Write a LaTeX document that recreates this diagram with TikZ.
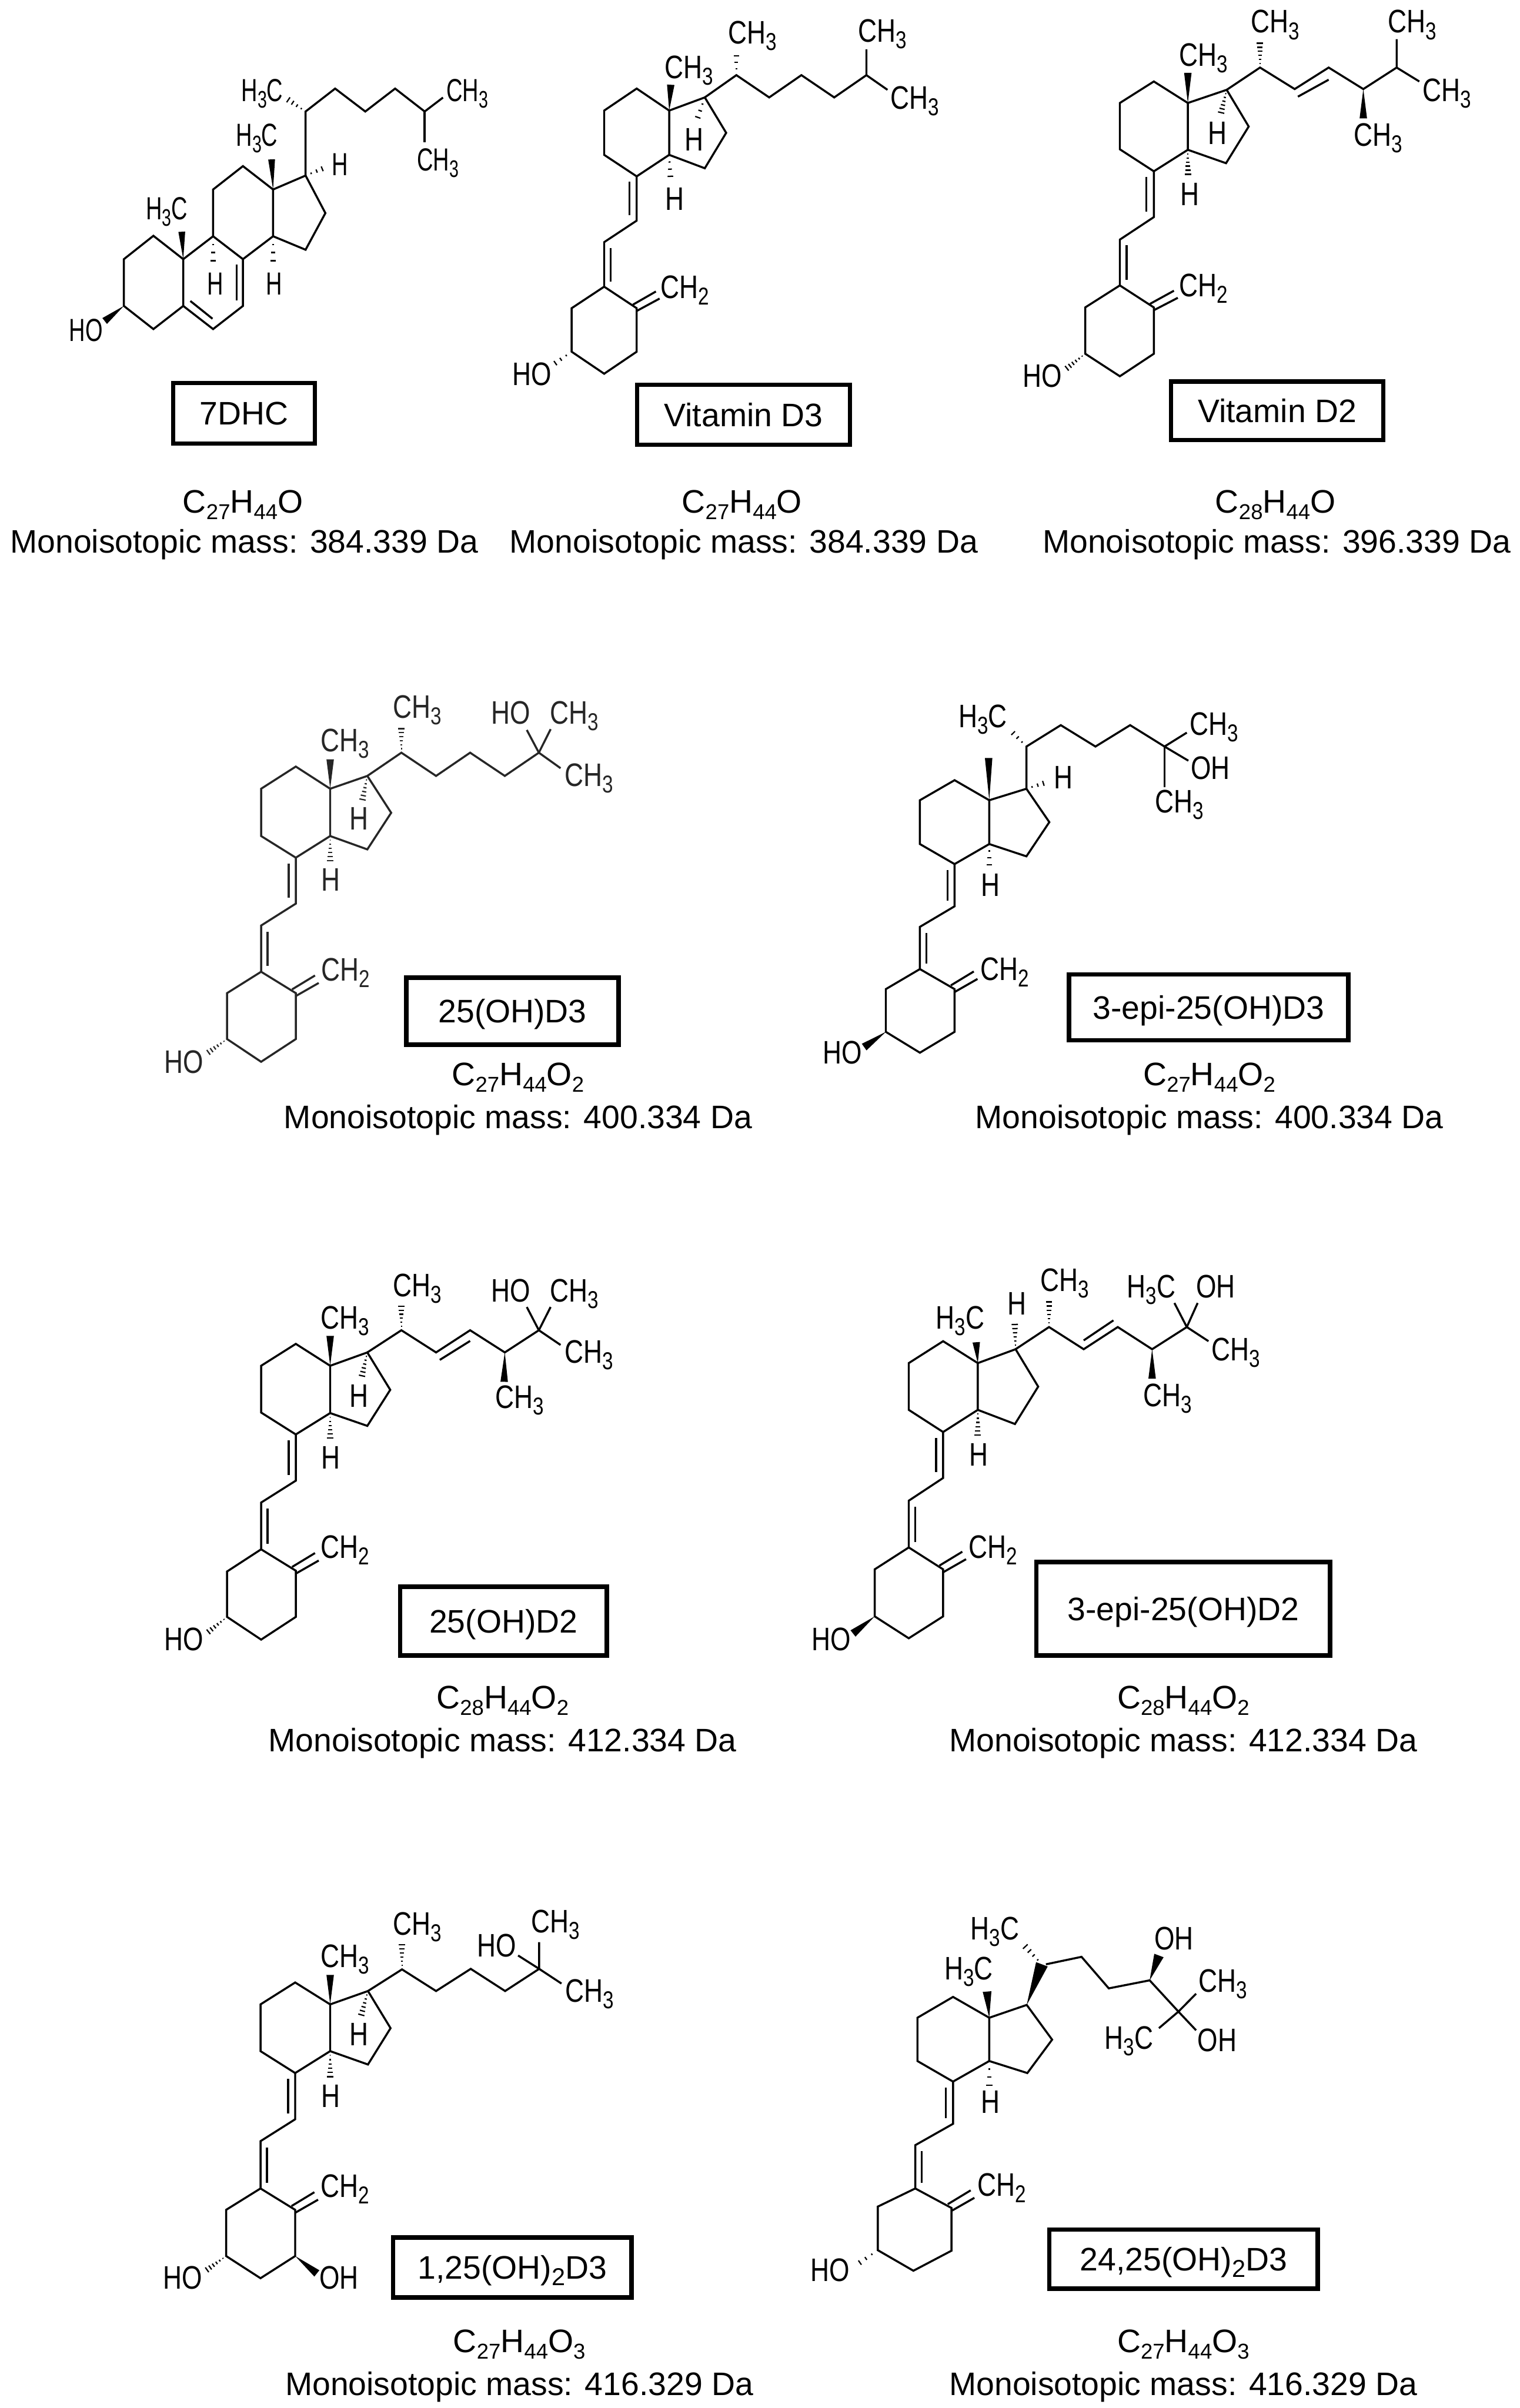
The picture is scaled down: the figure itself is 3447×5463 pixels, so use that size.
\documentclass[tikz,border=0pt]{standalone}
\usepackage{graphicx}
\usepackage{fontspec}
\setmainfont{Liberation Sans}
\newfontfamily\chemfamA[FakeStretch=0.70]{Liberation Sans}
\newfontfamily\chemfamB[FakeStretch=0.80]{Liberation Sans}
\newcommand{\chemA}{\chemfamA\fontsize{20.6pt}{23pt}\selectfont}
\newcommand{\chemB}{\chemfamB\fontsize{21pt}{24pt}\selectfont}
\usetikzlibrary{calc}
\newcommand{\lo}[1]{\raisebox{-.2em}{\scalebox{.75}{#1}}}
\newcommand{\loc}[1]{\raisebox{-.2em}{\scalebox{.66}{#1}}}
\tikzset{
  bond/.style={line width=1.3pt,line join=miter,line cap=butt},
  lab/.style={anchor=base west,inner sep=0pt,outer sep=0pt,font=\chemB},
  namebox/.style={draw,line width=2.84pt,inner sep=0pt,text height=15pt,text depth=0pt,font=\fontsize{21pt}{24pt}\selectfont},
  caption/.style={anchor=base,inner sep=0pt,font=\fontsize{21pt}{24pt}\selectfont},
  hashline/.style={line width=.85pt},
}
\newcommand{\pts}[1]{\foreach \n/\xx/\yy in {#1}{\coordinate (\n) at (\xx,\yy);}}
\newcommand{\lbl}[4]{\node[lab] (#1) at (#2,#3) {#4};}
% solid wedge: narrow end, wide end, half width (pt)
\newcommand{\wdg}[3]{\fill ($(#2)!#3pt!90:(#1)$) -- ($(#2)!#3pt!-90:(#1)$) -- (#1) -- cycle;}
% hashed wedge: narrow end, wide end, half width (pt), number of dashes
\newcommand{\hsh}[4]{\foreach \hi in {1,...,#4}{%
  \pgfmathsetmacro{\hT}{\hi/#4}\pgfmathsetmacro{\hW}{\hT*#3}%
  \draw[hashline] ($(#1)!\hT!(#2)!\hW pt!90:(#2)$) -- ($(#1)!\hT!(#2)!\hW pt!-90:(#2)$);}}
% the shared seco-steroid skeleton
\newcommand{\seco}{%
  \draw[bond] (u1) -- (u2) -- (u3) -- (u4) -- (q) -- (p) -- cycle;
  \draw[bond] (p) -- (f1) -- (f2) -- (f3) -- (q);
  \draw[bond] (u4) -- (d1) -- (d2) -- (a1);
  \draw[bond] (a1) -- (a2) -- (a3) -- (a4) -- (a5) -- (a6) -- cycle;
  \draw[bond] ($(u4)+(-23,22)$) -- ($(d1)+(-23,-22)$);
  \draw[bond] ($(d2)+(21,23)$) -- ($(a1)+(21,-21)$);
  \draw[bond] ($(a2)+(-12,-14)$) -- ($(a2)+(62,-66)$);
  \draw[bond] ($(a2)+(0,11)$) -- ($(a2)+(74,-38)$);
}
\begin{document}
\begin{tikzpicture}[x=0.01cm,y=-0.01cm]
\useasboundingbox (0,0) rectangle (3447,5463);
\fill[white] (0,0) rectangle (3447,5463);

% ---------- 7DHC
\begin{scope}[shift={(100,100)},x=0.006696cm,y=-0.005102cm,lab/.append style={font=\chemA}]
\pts{a/370/853,b/270/957,c/270/1165,d/370/1268,e/471/1165,g/471/957,h/572/855,i/673/957,j/673/1165,k/572/1268,l/572/647,m/673/543,o/775/647,r/775/855,s/885/585,t/952/752,v/885/915,w/885/300,w1/985/198,w2/1087/300,w3/1188/198,w4/1288/300,e1/1350/238,e2/1288/437,e3/466/835,e4/770/513,e5/205/1232,e6/572/1000,e7/775/1000,e8/960/545,e9/812/235,i1/652/980,i2/652/1140,i3/495/1143,i4/570/1222}
\draw[bond] (g) -- (a) -- (b) -- (c) -- (d) -- (e) -- cycle;
\draw[bond] (g) -- (h) -- (i) -- (j) -- (k) -- (e);
\draw[bond] (h) -- (l) -- (m) -- (o) -- (r) -- (i);
\draw[bond] (o) -- (s) -- (t) -- (v) -- (r);
\draw[bond] (s) -- (w) -- (w1) -- (w2) -- (w3) -- (w4) -- (e1);
\draw[bond] (w4) -- (e2);
\draw[bond] (i1) -- (i2);
\draw[bond] (i3) -- (i4);
\wdg{g}{e3}{2.2}\wdg{o}{e4}{2.2}\wdg{c}{e5}{2.4}
\hsh{h}{e6}{2.4}{4}\hsh{r}{e7}{2.4}{4}\hsh{s}{e8}{2.2}{4}\hsh{w}{e9}{2.4}{5}
\lbl{ma}{668}{255}{H\lo{3}C}
\lbl{mb}{650}{455}{H\lo{3}C}
\lbl{mc}{345}{780}{H\lo{3}C}
\lbl{md}{85}{1322}{HO}
\lbl{me}{552}{1115}{H}
\lbl{mf}{752}{1115}{H}
\lbl{mg}{975}{585}{H}
\lbl{mh}{1362}{255}{CH\lo{3}}
\lbl{mi}{1262}{565}{CH\lo{3}}
\end{scope}

% ---------- Vitamin D3
\begin{scope}[shift={(1100,0)},x=0.007015cm,y=-0.00574cm]
\pts{p/595/437,u1/490/350,u2/385/437,u3/385/612,u4/490/697,q/595/612,f1/710/385,f2/779/525,f3/710/665,d1/490/872,d2/385/957,a1/385/1133,a2/490/1218,a3/490/1390,a4/385/1477,a5/280/1390,a6/280/1218,s1/812/297,s2/918/385,s3/1022/297,s4/1128/385,s5/1232/297,e1/1232/195,e2/1300/355,e3/812/195,e4/680/490,e5/600/725,e6/600/335,e7/210/1450}
\seco
\draw[bond] (f1) -- (s1) -- (s2) -- (s3) -- (s4) -- (s5) -- (e1);
\draw[bond] (s5) -- (e2);
\wdg{p}{e6}{2.4}\hsh{s1}{e3}{2.4}{4}\hsh{f1}{e4}{2.4}{4}\hsh{q}{e5}{2.4}{4}\hsh{a5}{e7}{2.2}{4}
\lbl{na}{785}{172}{CH\lo{3}}
\lbl{nb}{1205}{167}{CH\lo{3}}
\lbl{nc}{1310}{430}{CH\lo{3}}
\lbl{nd}{580}{310}{CH\lo{3}}
\lbl{ne}{645}{595}{H}
\lbl{nf}{583}{830}{H}
\lbl{ng}{567}{1180}{CH\lo{2}}
\lbl{nh}{88}{1522}{HO}
\end{scope}

% ---------- Vitamin D2
\begin{scope}[shift={(2250,0)},x=0.007334cm,y=-0.00574cm]
\pts{p/605/407,u1/500/322,u2/395/407,u3/395/590,u4/500/677,q/605/592,f1/725/355,f2/793/500,f3/723/645,d1/500/858,d2/395/947,a1/395/1128,a2/500/1215,a3/500/1398,a4/395/1487,a5/288/1398,a6/288/1215,s1/828/267,s2/935/352,s3/1040/267,s4/1147/352,s5/1250/267,e1/1250/155,e2/1320/322,e3/828/155,e4/705/460,e5/605/705,e6/605/288,e7/222/1465,e8/1147/468,i1/945/382,i2/1040/315}
\seco
\draw[bond] (f1) -- (s1) -- (s2) -- (s3) -- (s4) -- (s5) -- (e1);
\draw[bond] (s5) -- (e2);
\draw[bond] (i1) -- (i2);
\wdg{p}{e6}{2.4}\wdg{s4}{e8}{2.4}\hsh{s1}{e3}{2.4}{7}\hsh{f1}{e4}{2.4}{7}\hsh{q}{e5}{2.4}{7}\hsh{a5}{e7}{2.2}{7}
\lbl{oa}{800}{130}{CH\lo{3}}
\lbl{ob}{1224}{130}{CH\lo{3}}
\lbl{oc}{1330}{400}{CH\lo{3}}
\lbl{od}{1118}{578}{CH\lo{3}}
\lbl{oe}{578}{262}{CH\lo{3}}
\lbl{of}{667}{570}{H}
\lbl{og}{582}{812}{H}
\lbl{oh}{578}{1172}{CH\lo{2}}
\lbl{oi}{95}{1530}{HO}
\end{scope}

% ---------- 25(OH)D3
\begin{scope}[shift={(350,1550)},x=0.007015cm,y=-0.006059cm,color=black!85]
\pts{p/568/395,u1/457/312,u2/345/395,u3/345/572,u4/457/653,q/568/572,f1/688/347,f2/765/485,f3/688/622,d1/457/825,d2/345/907,a1/345/1080,a2/457/1160,a3/457/1332,a4/345/1417,a5/235/1332,a6/235/1160,s1/798/260,s2/910/347,s3/1020/260,s4/1132/347,s5/1242/260,e1/1203/175,e2/1280/172,e9/1312/318,e3/798/155,e4/670/450,e5/568/680,e6/568/285,e7/165/1390}
\seco
\draw[bond] (f1) -- (s1) -- (s2) -- (s3) -- (s4) -- (s5) -- (e1);
\draw[bond] (s5) -- (e2);
\draw[bond] (s5) -- (e9);
\wdg{p}{e6}{2.4}\hsh{s1}{e3}{2.4}{7}\hsh{f1}{e4}{2.4}{7}\hsh{q}{e5}{2.4}{7}\hsh{a5}{e7}{2.2}{7}
\lbl{pa}{772}{130}{CH\lo{3}}
\lbl{pb}{1088}{152}{HO}
\lbl{pc}{1278}{152}{CH\lo{3}}
\lbl{pd}{1325}{385}{CH\lo{3}}
\lbl{pe}{538}{255}{CH\lo{3}}
\lbl{pf}{630}{548}{H}
\lbl{pg}{540}{778}{H}
\lbl{ph}{540}{1115}{CH\lo{2}}
\lbl{pi}{32}{1460}{HO}
\end{scope}

% ---------- 3-epi-25(OH)D3
\begin{scope}[shift={(1800,1550)},x=0.007015cm,y=-0.006059cm]
\pts{p/632/438,u1/520/363,u2/408/438,u3/408/602,u4/520/677,q/632/602,f1/752/395,f2/826/520,f3/752/648,d1/520/835,d2/408/912,a1/408/1070,a2/520/1145,a3/520/1305,a4/408/1383,a5/298/1305,a6/298/1145,s1/752/237,s2/863/157,s3/975/237,s4/1087/157,s5/1198/237,e1/1270/185,e2/1275/290,e9/1198/390,e3/695/170,e4/825/368,e5/632/705,e6/630/280,e7/228/1362}
\seco
\draw[bond] (f1) -- (s1) -- (s2) -- (s3) -- (s4) -- (s5) -- (e1);
\draw[bond] (s5) -- (e2);
\draw[bond] (s5) -- (e9);
\wdg{p}{e6}{2.4}\wdg{a5}{e7}{2.6}\hsh{s1}{e3}{2.2}{4}\hsh{f1}{e4}{2.2}{4}\hsh{q}{e5}{2.4}{4}
\lbl{qa}{533}{165}{H\lo{3}C}
\lbl{qb}{842}{395}{H}
\lbl{qc}{1280}{195}{CH\lo{3}}
\lbl{qd}{1283}{360}{OH}
\lbl{qe}{1168}{485}{CH\lo{3}}
\lbl{qf}{605}{797}{H}
\lbl{qg}{603}{1112}{CH\lo{2}}
\lbl{qh}{95}{1425}{HO}
\end{scope}

% ---------- 25(OH)D2
\begin{scope}[shift={(350,2850)},x=0.007015cm,y=-0.006059cm]
\pts{p/568/410,u1/457/328,u2/345/410,u3/345/585,u4/457/667,q/568/587,f1/688/360,f2/762/500,f3/688/635,d1/457/840,d2/345/922,a1/345/1097,a2/457/1177,a3/457/1350,a4/345/1435,a5/235/1350,a6/235/1180,s1/798/277,s2/910/360,s3/1020/277,s4/1132/360,s5/1242/277,e1/1203/190,e2/1280/190,e9/1312/332,e3/798/172,e4/668/462,e5/568/695,e6/568/298,e7/165/1415,e8/1130/470,i1/922/388,i2/1020/317}
\seco
\draw[bond] (f1) -- (s1) -- (s2) -- (s3) -- (s4) -- (s5) -- (e1);
\draw[bond] (s5) -- (e2);
\draw[bond] (s5) -- (e9);
\draw[bond] (i1) -- (i2);
\wdg{p}{e6}{2.4}\wdg{s4}{e8}{2.4}\hsh{s1}{e3}{2.4}{7}\hsh{f1}{e4}{2.4}{7}\hsh{q}{e5}{2.4}{7}\hsh{a5}{e7}{2.2}{7}
\lbl{ra}{772}{150}{CH\lo{3}}
\lbl{rb}{1088}{170}{HO}
\lbl{rc}{1278}{170}{CH\lo{3}}
\lbl{rd}{1325}{400}{CH\lo{3}}
\lbl{re}{1102}{570}{CH\lo{3}}
\lbl{rf}{538}{272}{CH\lo{3}}
\lbl{rg}{630}{565}{H}
\lbl{rh}{540}{795}{H}
\lbl{ri}{538}{1130}{CH\lo{2}}
\lbl{rj}{32}{1475}{HO}
\end{scope}

% ---------- 3-epi-25(OH)D2
\begin{scope}[shift={(1800,2850)},x=0.007015cm,y=-0.006059cm]
\pts{p/595/400,u1/483/318,u2/372/400,u3/372/575,u4/483/658,q/595/575,f1/717/348,f2/790/488,f3/715/628,d1/483/830,d2/372/915,a1/372/1090,a2/483/1172,a3/483/1348,a4/372/1430,a5/262/1348,a6/262/1172,s1/825/265,s2/937/348,s3/1047/265,s4/1158/348,s5/1270/265,e1/1230/175,e2/1305/175,e9/1340/318,e3/825/155,e4/714/240,e5/595/685,e6/590/322,e7/192/1412,e8/1158/458,i1/937/315,i2/1033/240}
\seco
\draw[bond] (f1) -- (s1) -- (s2) -- (s3) -- (s4) -- (s5) -- (e1);
\draw[bond] (s5) -- (e2);
\draw[bond] (s5) -- (e9);
\draw[bond] (i1) -- (i2);
\wdg{p}{e6}{2.4}\wdg{s4}{e8}{2.4}\wdg{a5}{e7}{2.6}\hsh{s1}{e3}{2.4}{7}\hsh{f1}{e4}{2.4}{7}\hsh{q}{e5}{2.4}{7}
\lbl{sa}{798}{132}{CH\lo{3}}
\lbl{sb}{1077}{155}{H\lo{3}C}
\lbl{sc}{1300}{155}{OH}
\lbl{sd}{1350}{390}{CH\lo{3}}
\lbl{se}{1130}{562}{CH\lo{3}}
\lbl{sf}{692}{220}{H}
\lbl{sg}{460}{272}{H\lo{3}C}
\lbl{sh}{568}{785}{H}
\lbl{si}{565}{1130}{CH\lo{2}}
\lbl{sj}{58}{1475}{HO}
\end{scope}

% ---------- 1,25(OH)2D3
\begin{scope}[shift={(350,4300)},x=0.007015cm,y=-0.006059cm]
\pts{p/568/408,u1/455/326,u2/343/408,u3/343/583,u4/455/665,q/568/583,f1/690/358,f2/763/497,f3/690/633,d1/455/838,d2/343/920,a1/343/1097,a2/455/1177,a3/455/1350,a4/343/1433,a5/232/1350,a6/232/1177,s1/800/277,s2/910/358,s3/1022/275,s4/1133/358,s5/1243/275,e1/1243/175,e2/1175/225,e9/1315/330,e3/800/170,e4/665/462,e5/568/695,e6/568/298,e7/160/1410,e8/525/1415}
\seco
\draw[bond] (f1) -- (s1) -- (s2) -- (s3) -- (s4) -- (s5) -- (e1);
\draw[bond] (s5) -- (e2);
\draw[bond] (s5) -- (e9);
\wdg{p}{e6}{2.4}\wdg{a3}{e8}{2.6}\hsh{s1}{e3}{2.4}{7}\hsh{f1}{e4}{2.4}{7}\hsh{q}{e5}{2.4}{7}\hsh{a5}{e7}{2.2}{7}
\lbl{ta}{772}{148}{CH\lo{3}}
\lbl{tb}{1217}{140}{CH\lo{3}}
\lbl{tc}{1042}{230}{HO}
\lbl{td}{1328}{400}{CH\lo{3}}
\lbl{te}{538}{270}{CH\lo{3}}
\lbl{tf}{630}{563}{H}
\lbl{tg}{540}{793}{H}
\lbl{th}{538}{1130}{CH\lo{2}}
\lbl{ti}{28}{1473}{HO}
\lbl{tj}{533}{1473}{OH}
\end{scope}

% ---------- 24,25(OH)2D3
\begin{scope}[shift={(1800,4300)},x=0.007015cm,y=-0.006059cm]
\pts{p/632/458,u1/515/380,u2/400/458,u3/400/620,u4/515/697,q/632/620,f1/753/410,f2/835/540,f3/755/665,d1/515/855,d2/393/935,a1/393/1097,a2/510/1170,a3/510/1330,a4/387/1405,a5/272/1328,a6/272/1165,s1/802/258,s0/815/258,s2/930/230,s3/1018/348,s4/1150/318,s5/1243/435,e1/1300/368,e2/1300/505,e9/1180/497,e3/735/175,e4/1180/225,e5/632/740,e6/625/360,e7/195/1390}
\seco
\draw[bond] (s0) -- (s2) -- (s3) -- (s4) -- (s5) -- (e1);
\draw[bond] (s5) -- (e2);
\draw[bond] (s5) -- (e9);
\wdg{p}{e6}{2.8}\wdg{f1}{s1}{4}\wdg{s4}{e4}{3.2}\hsh{s1}{e3}{2.6}{5}\hsh{q}{e5}{2.6}{4}\hsh{a5}{e7}{2.2}{4}
\lbl{ua}{572}{165}{H\lo{3}C}
\lbl{ub}{487}{315}{H\lo{3}C}
\lbl{uc}{1165}{203}{OH}
\lbl{ud}{1308}{362}{CH\lo{3}}
\lbl{ue}{1005}{575}{H\lo{3}C}
\lbl{uf}{1305}{585}{OH}
\lbl{ug}{605}{815}{H}
\lbl{uh}{595}{1125}{CH\lo{2}}
\lbl{ui}{55}{1445}{HO}
\end{scope}

% ---------- name boxes
\node[namebox,minimum width=3.21cm,minimum height=1.37cm] (b1) at (553.5,937.5) {7DHC};
\node[namebox,minimum width=4.83cm,minimum height=1.36cm] (b2) at (1686.5,941) {Vitamin D3};
\node[namebox,minimum width=4.81cm,minimum height=1.33cm] (b3) at (2897,932) {Vitamin D2};
\node[namebox,minimum width=4.81cm,minimum height=1.52cm] (b4) at (1162.5,2294) {25(OH)D3};
\node[namebox,minimum width=6.33cm,minimum height=1.49cm] (b5) at (2741.5,2285.5) {3-epi-25(OH)D3};
\node[namebox,minimum width=4.68cm,minimum height=1.56cm] (b6) at (1142,3678) {25(OH)D2};
\node[namebox,minimum width=6.66cm,minimum height=2.12cm] (b7) at (2684,3650) {3-epi-25(OH)D2};
\node[namebox,minimum width=5.40cm,minimum height=1.36cm] (b8) at (1162,5144) {1,25(OH)\lo{2}D3};
\node[namebox,minimum width=6.09cm,minimum height=1.34cm] (b9) at (2684.5,5125) {24,25(OH)\lo{2}D3};

% ---------- formulas and masses
\node[caption] (c1) at (551,1164) {C\loc{27}H\loc{44}O};
\node[caption] (d1t) at (554,1255) {Monoisotopic mass: 384.339 Da};
\node[caption] (c2) at (1683,1164) {C\loc{27}H\loc{44}O};
\node[caption] (d2t) at (1687,1255) {Monoisotopic mass: 384.339 Da};
\node[caption] (c3) at (2893,1164) {C\loc{28}H\loc{44}O};
\node[caption] (d3t) at (2896,1255) {Monoisotopic mass: 396.339 Da};
\node[caption] (c4) at (1175,2463) {C\loc{27}H\loc{44}O\loc{2}};
\node[caption] (d4t) at (1175,2560) {Monoisotopic mass: 400.334 Da};
\node[caption] (c5) at (2743,2463) {C\loc{27}H\loc{44}O\loc{2}};
\node[caption] (d5t) at (2743,2560) {Monoisotopic mass: 400.334 Da};
\node[caption] (c6) at (1140,3876) {C\loc{28}H\loc{44}O\loc{2}};
\node[caption] (d6t) at (1140,3974) {Monoisotopic mass: 412.334 Da};
\node[caption] (c7) at (2684,3876) {C\loc{28}H\loc{44}O\loc{2}};
\node[caption] (d7t) at (2684,3974) {Monoisotopic mass: 412.334 Da};
\node[caption] (c8) at (1178,5337) {C\loc{27}H\loc{44}O\loc{3}};
\node[caption] (d8t) at (1178,5434) {Monoisotopic mass: 416.329 Da};
\node[caption] (c9) at (2684,5337) {C\loc{27}H\loc{44}O\loc{3}};
\node[caption] (d9t) at (2684,5434) {Monoisotopic mass: 416.329 Da};
\end{tikzpicture}
\end{document}
